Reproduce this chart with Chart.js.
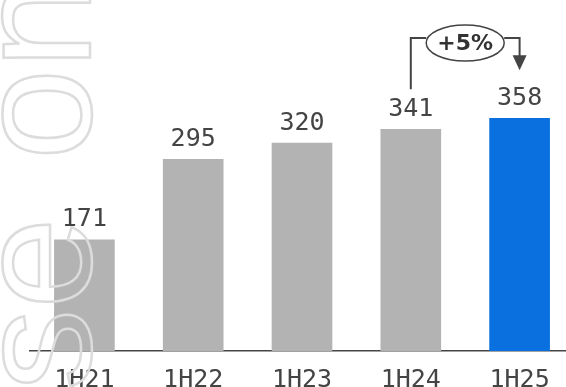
<!DOCTYPE html>
<html>
<head>
<meta charset="utf-8">
<script src="https://cdn.jsdelivr.net/npm/chart.js@4"></script>
<style>
  html, body { margin: 0; padding: 0; background: #fff; overflow: hidden; }
  #wrap { width: 566px; height: 387px; overflow: hidden; }
</style>
</head>
<body>
<div id="wrap"><canvas id="chart" width="574" height="387"></canvas></div>
<script>
// chart data
const periods = ['1H21', '1H22', '1H23', '1H24', '1H25'];
const values = [171, 295, 320, 341, 358];
const barColors = ['#b3b3b3', '#b3b3b3', '#b3b3b3', '#b3b3b3', '#0a70e0'];
const growthLabel = '+5%';
const watermarkWords = ['use', 'on'];

const TEXT = '#444444';
const MONO = '"DejaVu Sans Mono", monospace';

// faint outlined watermark running up the left edge
const watermark = {
    id: 'watermark',
    afterDatasetsDraw(chart) {
        const ctx = chart.ctx;
        ctx.save();
        ctx.translate(90, 470);
        ctx.rotate(-Math.PI / 2);
        ctx.font = '164px "Liberation Sans", Arial, sans-serif';
        ctx.textBaseline = 'alphabetic';
        ctx.strokeStyle = '#dcdcdc';
        ctx.lineWidth = 2.5;
        const gap = ctx.measureText(watermarkWords[0] + ' ').width;
        ctx.strokeText(watermarkWords[0], -12, 0);
        ctx.strokeText(watermarkWords[1], gap, 0);
        ctx.restore();
    }
};

// numbers above bars + growth bracket between the last two bars
const annotations = {
    id: 'annotations',
    afterDraw(chart) {
        const ctx = chart.ctx;
        const bars = chart.getDatasetMeta(0).data;
        ctx.save();
        ctx.fillStyle = TEXT;
        ctx.font = '25px ' + MONO;
        ctx.textAlign = 'center';
        ctx.textBaseline = 'middle';
        bars.forEach((bar, i) => {
            ctx.fillText(String(values[i]), bar.x, bar.y - 20);
        });

        const a = bars[3], b = bars[4];
        const lineY = 38;
        const cx = (a.x + b.x) / 2, cy = 43, rx = 39, ry = 18;
        ctx.strokeStyle = TEXT;
        ctx.lineWidth = 2;
        ctx.beginPath();
        ctx.moveTo(a.x, a.y - 40);
        ctx.lineTo(a.x, lineY);
        ctx.lineTo(cx - rx, lineY);
        ctx.moveTo(cx + rx, lineY);
        ctx.lineTo(b.x, lineY);
        ctx.lineTo(b.x, b.y - 62);
        ctx.stroke();
        ctx.fillStyle = TEXT;
        ctx.beginPath();
        ctx.moveTo(b.x - 7, b.y - 63);
        ctx.lineTo(b.x + 7, b.y - 63);
        ctx.lineTo(b.x, b.y - 48);
        ctx.closePath();
        ctx.fill();

        ctx.lineWidth = 1.5;
        ctx.fillStyle = '#fff';
        ctx.beginPath();
        ctx.ellipse(cx, cy, rx, ry, 0, 0, Math.PI * 2);
        ctx.fill();
        ctx.stroke();
        ctx.fillStyle = '#333';
        ctx.font = 'bold 22px "DejaVu Sans", sans-serif';
        ctx.fillText(growthLabel, cx, cy + 1);
        ctx.restore();
    }
};

new Chart(document.getElementById('chart'), {
    type: 'bar',
    data: {
        labels: periods,
        datasets: [{
            data: values,
            backgroundColor: barColors,
            barThickness: 60
        }]
    },
    options: {
        responsive: false,
        animation: false,
        layout: { padding: { left: 30, right: 0, top: 0, bottom: -22 } },
        plugins: {
            legend: { display: false },
            tooltip: { enabled: false }
        },
        scales: {
            x: {
                grid: { display: false, drawTicks: false },
                border: { display: true, color: TEXT, width: 1.5 },
                ticks: { color: TEXT, font: { family: MONO, size: 25 }, padding: 14 }
            },
            y: {
                display: false,
                min: 0,
                max: 540
            }
        }
    },
    plugins: [watermark, annotations]
});
</script>
</body>
</html>
